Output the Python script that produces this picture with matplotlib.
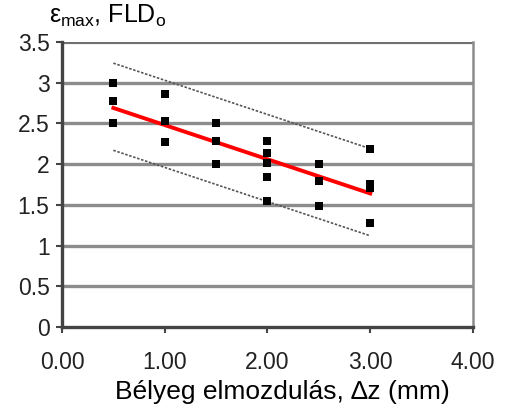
import matplotlib
matplotlib.use("Agg")
from matplotlib import pyplot as plt

plt.rcParams['font.family'] = ['Liberation Sans', 'DejaVu Sans']
plt.rcParams['mathtext.fontset'] = 'custom'
plt.rcParams['mathtext.rm'] = 'Liberation Sans'
plt.rcParams['mathtext.it'] = 'Liberation Sans'

# measured points (stamp displacement vs strain)
dz = [0.5, 0.5, 0.5,
      1.0, 1.0, 1.0,
      1.5, 1.5, 1.5,
      2.0, 2.0, 2.0, 2.0, 2.0,
      2.5, 2.5, 2.5,
      3.0, 3.0, 3.0, 3.0]
eps = [3.00, 2.78, 2.50,
       2.86, 2.53, 2.27,
       2.50, 2.29, 2.00,
       2.29, 2.14, 2.01, 1.84, 1.55,
       2.00, 1.79, 1.48,
       2.19, 1.76, 1.71, 1.28]

# trend line and band limits
line_x = [0.5, 3.0]
trend_y = [2.69, 1.64]
upper_y = [3.24, 2.19]
lower_y = [2.17, 1.12]

x_ticks = [0, 1, 2, 3, 4]
x_labels = ["0.00", "1.00", "2.00", "3.00", "4.00"]
y_ticks = [0, 0.5, 1, 1.5, 2, 2.5, 3, 3.5]
y_labels = ["0", "0.5", "1", "1.5", "2", "2.5", "3", "3.5"]

fig = plt.figure(figsize=(5.05, 4.11), dpi=100)
ax = fig.add_axes([0.1228, 0.2044, 0.8138, 0.6934])

for yv in y_ticks[1:-1]:
    ax.axhline(yv, color='#8c8c8c', lw=2.4, zorder=1)
ax.axhline(y_ticks[-1], color='#707070', lw=3, zorder=1)

ax.plot(line_x, upper_y, color='#555555', lw=1.2, ls=(0, (1.5, 1)), zorder=2)
ax.plot(line_x, lower_y, color='#555555', lw=1.2, ls=(0, (1.5, 1)), zorder=2)
ax.plot(line_x, trend_y, color='#ff0000', lw=2.8, zorder=3)
ax.scatter(dz, eps, marker='s', s=40, color='black', zorder=4, linewidths=0)

ax.set_xlim(0, 4)
ax.set_ylim(0, 3.5)
ax.set_xticks(x_ticks)
ax.set_xticklabels(x_labels)
ax.set_yticks(y_ticks)
ax.set_yticklabels(y_labels)

ax.spines['top'].set_visible(False)
ax.spines['left'].set_color('#444444')
ax.spines['left'].set_linewidth(2.4)
ax.spines['bottom'].set_color('#444444')
ax.spines['bottom'].set_linewidth(2.4)
ax.spines['right'].set_color('#8c8c8c')
ax.spines['right'].set_linewidth(1.8)

ax.tick_params(axis='both', direction='out', length=4, width=1.5,
               color='#444444', labelsize=16.5, labelcolor='#222222')
ax.tick_params(axis='x', pad=13)
ax.tick_params(axis='y', pad=5)
ax.tick_params(axis='y', which='both', right=False)

ax.set_xlabel("Bélyeg elmozdulás, \u2206z (mm)", fontsize=19)
ax.xaxis.set_label_coords(0.535, -0.185)
fig.text(0.098, 0.93, r"$\varepsilon_{\rm max}$, FLD$_{\rm o}$", fontsize=18,
         ha='left', va='bottom')

fig.savefig("out.png", dpi=100)
